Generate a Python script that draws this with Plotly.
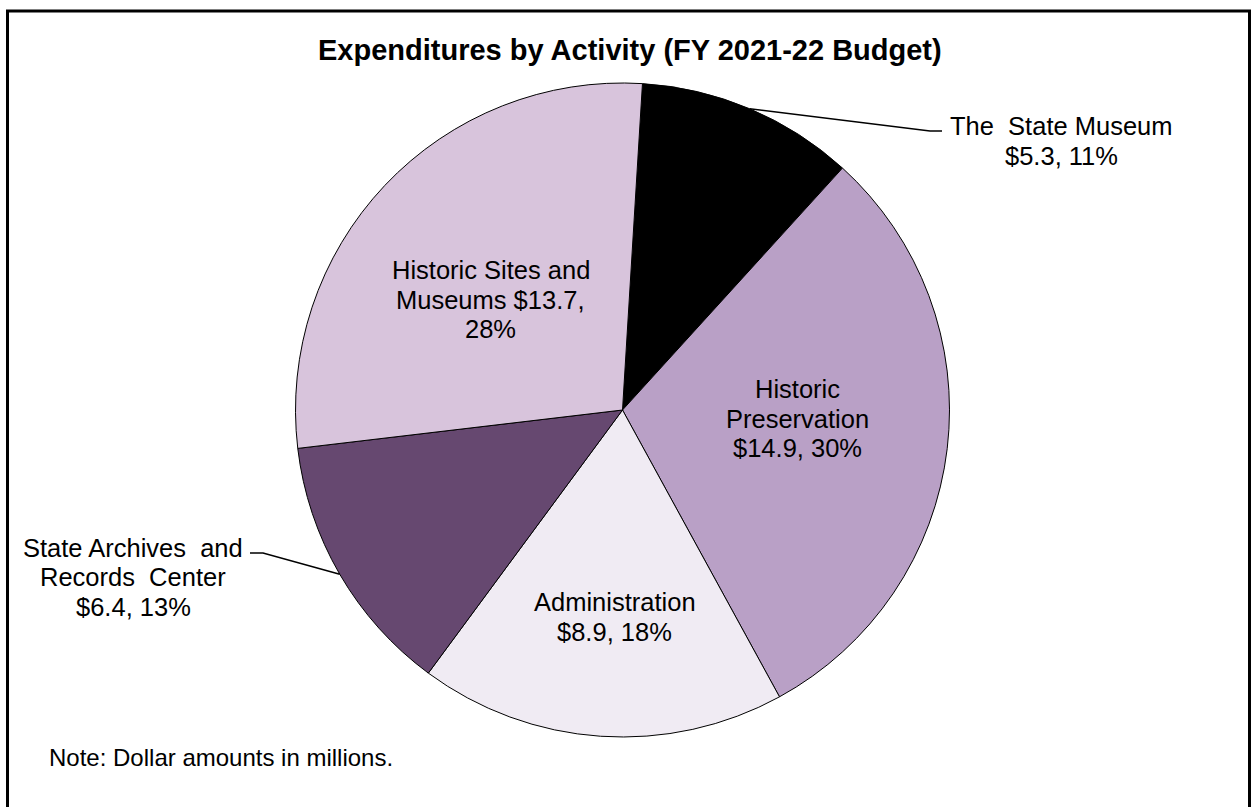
import math
import plotly.graph_objects as go

# FY 2021-22 expenditures by activity, dollars in millions
activities = [
    "The State Museum",
    "Historic Preservation",
    "Administration",
    "State Archives and Records Center",
    "Historic Sites and Museums",
]
amounts = [5.3, 14.9, 8.9, 6.4, 13.7]
label_lines = [
    ["The  State Museum"],
    ["Historic", "Preservation"],
    ["Administration"],
    ["State Archives  and", "Records  Center"],
    ["Historic Sites and", "Museums"],
]
colors = ["#000000", "#B9A0C6", "#F0EBF3", "#664870", "#D8C4DC"]

W, H = 1251, 807
CX, CY, R = 622.5, 410.0, 327.0   # pie centre and radius in pixels
ROTATION = 3.5                   # first slice starts just clockwise of 12 o'clock
FONT = "Arial, Liberation Sans, sans-serif"
LABEL_SIZE = 25.5
LINE_GAP = 29.5


def px(x):
    return x / W


def py(y):
    return 1 - y / H


total = sum(amounts)
shares = [a / total for a in amounts]
mid_angles = []
acc = ROTATION
for s in shares:
    mid_angles.append(acc + s * 180.0)
    acc += s * 360.0


def polar(angle_deg, r):
    a = math.radians(angle_deg)
    return CX + r * math.sin(a), CY - r * math.cos(a)


def label_rows(i):
    lines = list(label_lines[i])
    pct = f"{round(shares[i] * 100):d}%"
    if i == 4:
        # value shares the second line, percentage on its own line
        lines[-1] = lines[-1] + f" ${amounts[i]:.1f},"
        lines.append(pct)
    else:
        lines.append(f"${amounts[i]:.1f}, {pct}")
    return lines


annotations = []
shapes = []


def add_label(i, cx, cy):
    rows = label_rows(i)
    top = cy - LINE_GAP * (len(rows) - 1) / 2
    for k, row in enumerate(rows):
        annotations.append(dict(
            x=px(cx), y=py(top + k * LINE_GAP), xref="paper", yref="paper",
            text=row, showarrow=False, align="center",
            xanchor="center", yanchor="middle",
            font=dict(family=FONT, size=LABEL_SIZE, color="#000000"),
        ))


fig = go.Figure()
fig.add_trace(go.Pie(
    labels=activities,
    values=amounts,
    sort=False,
    direction="clockwise",
    rotation=ROTATION,
    marker=dict(colors=colors, line=dict(color="#000000", width=1)),
    textinfo="none",
    hoverinfo="label+value+percent",
    showlegend=False,
    domain=dict(x=[px(CX - R), px(CX + R)], y=[py(CY + R), py(CY - R)]),
))

# labels placed inside their slices: (slice index, radius fraction, pixel nudge)
inside = [(4, 0.53, (-6, 9)), (1, 0.535, (1, -12)), (2, 0.635, (6, 0))]
for i, frac, (nx, ny) in inside:
    x, y = polar(mid_angles[i], R * frac)
    add_label(i, x + nx, y + ny)

# labels outside the pie with leader lines: (slice index, elbow, end, text centre)
outside = [
    (0, (930, 131), (942, 131), (1061, 141)),
    (3, (263, 553), (250, 553), (133, 577)),
]
for i, elbow, end, centre in outside:
    sx, sy = polar(mid_angles[i], R)
    path = f"M {px(sx)},{py(sy)} L {px(elbow[0])},{py(elbow[1])} L {px(end[0])},{py(end[1])}"
    shapes.append(dict(type="path", path=path, xref="paper", yref="paper",
                       line=dict(color="#000000", width=1.5)))
    add_label(i, *centre)

# title and footnote
annotations.append(dict(
    x=px(630), y=py(50), xref="paper", yref="paper",
    text="<b>Expenditures by Activity (FY 2021-22 Budget)</b>",
    showarrow=False, xanchor="center", yanchor="middle",
    font=dict(family=FONT, size=29, color="#000000"),
))
annotations.append(dict(
    x=px(47), y=py(757), xref="paper", yref="paper",
    text="Note: Dollar amounts in millions.",
    showarrow=False, xanchor="left", yanchor="middle",
    font=dict(family=FONT, size=24, color="#000000"),
))

# outer frame (open at the bottom edge of the page)
shapes.append(dict(type="rect", xref="paper", yref="paper",
                   x0=px(7.5), x1=px(1249.5), y0=-0.05, y1=py(11),
                   line=dict(color="#000000", width=3), fillcolor="rgba(0,0,0,0)"))

fig.update_layout(
    width=W, height=H,
    margin=dict(l=0, r=0, t=0, b=0),
    paper_bgcolor="#FFFFFF",
    plot_bgcolor="#FFFFFF",
    annotations=annotations,
    shapes=shapes,
)

fig.write_html("out.html")
